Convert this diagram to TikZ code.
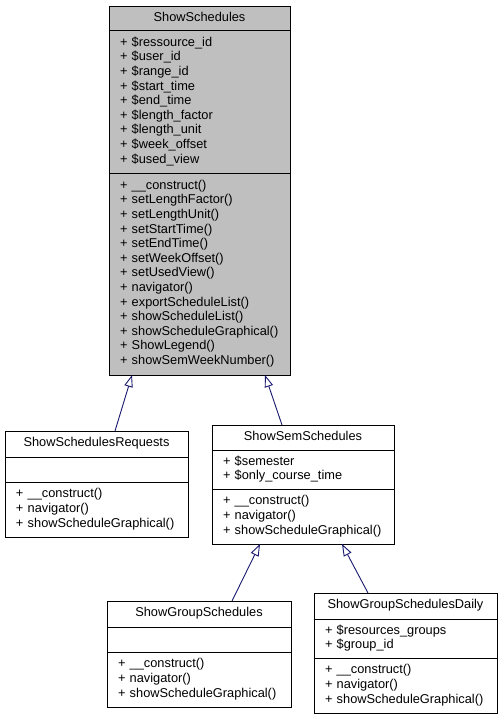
\documentclass[tikz,border=0pt]{standalone}
\usepackage{fontspec}
\setmainfont{Liberation Sans}
\usetikzlibrary{positioning,arrows.meta}
\definecolor{classgray}{HTML}{BFBFBF}
\definecolor{edgeblue}{HTML}{191970}
\begin{document}
\begin{tikzpicture}[x=1pt,y=-1pt,
  members/.style={draw,line width=1pt,outer sep=0pt,inner xsep=11pt,inner ysep=0pt,
    text width=#1pt,align=left,font=\fontsize{12.8}{14.6}\selectfont,
    execute at begin node=\strut,execute at end node=\strut},
  clsname/.style={members=#1,align=center},
  inherit/.style={draw=edgeblue,line width=0.9pt,-{Triangle[open,length=12pt,width=8.5pt]}}]
\path[fill=white](0,0)rectangle(503,720);
%
\node[clsname=159,fill=classgray,anchor=north west,minimum height=24.7pt](schedT)at(109,6){ShowSchedules};
\node[members=159,fill=classgray,below=0pt of schedT,minimum height=142.3pt](schedA){+ \$ressource\_id\\+ \$user\_id\\+ \$range\_id\\+ \$start\_time\\+ \$end\_time\\+ \$length\_factor\\+ \$length\_unit\\+ \$week\_offset\\+ \$used\_view};
\node[members=159,fill=classgray,below=0pt of schedA,minimum height=202pt](schedM){+ \_\_construct()\\+ setLengthFactor()\\+ setLengthUnit()\\+ setStartTime()\\+ setEndTime()\\+ setWeekOffset()\\+ setUsedView()\\+ navigator()\\+ exportScheduleList()\\+ showScheduleList()\\+ showScheduleGraphical()\\+ ShowLegend()\\+ showSemWeekNumber()};
%
\node[clsname=161,anchor=north west,minimum height=26pt](reqT)at(5,431){ShowSchedulesRequests};
\node[members=161,below=0pt of reqT,minimum height=25pt](reqA){};
\node[members=161,below=0pt of reqA,minimum height=55pt](reqM){+ \_\_construct()\\+ navigator()\\+ showScheduleGraphical()};
%
\node[clsname=160,anchor=north west,minimum height=25pt](semT)at(212,425){ShowSemSchedules};
\node[members=160,below=0pt of semT,minimum height=39pt](semA){+ \$semester\\+ \$only\_course\_time};
\node[members=160,below=0pt of semA,minimum height=55pt](semM){+ \_\_construct()\\+ navigator()\\+ showScheduleGraphical()};
%
\node[clsname=162,anchor=north west,minimum height=26pt](grpT)at(107,601){ShowGroupSchedules};
\node[members=162,below=0pt of grpT,minimum height=25pt](grpA){};
\node[members=162,below=0pt of grpA,minimum height=55pt](grpM){+ \_\_construct()\\+ navigator()\\+ showScheduleGraphical()};
%
\node[clsname=161,anchor=north west,minimum height=26pt](dailyT)at(314,593){ShowGroupSchedulesDaily};
\node[members=161,below=0pt of dailyT,minimum height=39pt](dailyA){+ \$resources\_groups\\+ \$group\_id};
\node[members=161,below=0pt of dailyA,minimum height=55pt](dailyM){+ \_\_construct()\\+ navigator()\\+ showScheduleGraphical()};
%
\draw[inherit]([xshift=18.5pt]reqT.north)--([xshift=-67.5pt]schedM.south);
\draw[inherit]([xshift=-21pt]semT.north)--([xshift=65.5pt]schedM.south);
\draw[inherit]([xshift=33pt]grpT.north)--([xshift=-43pt]semM.south);
\draw[inherit]([xshift=-37.5pt]dailyT.north)--([xshift=39pt]semM.south);
\end{tikzpicture}
\end{document}
